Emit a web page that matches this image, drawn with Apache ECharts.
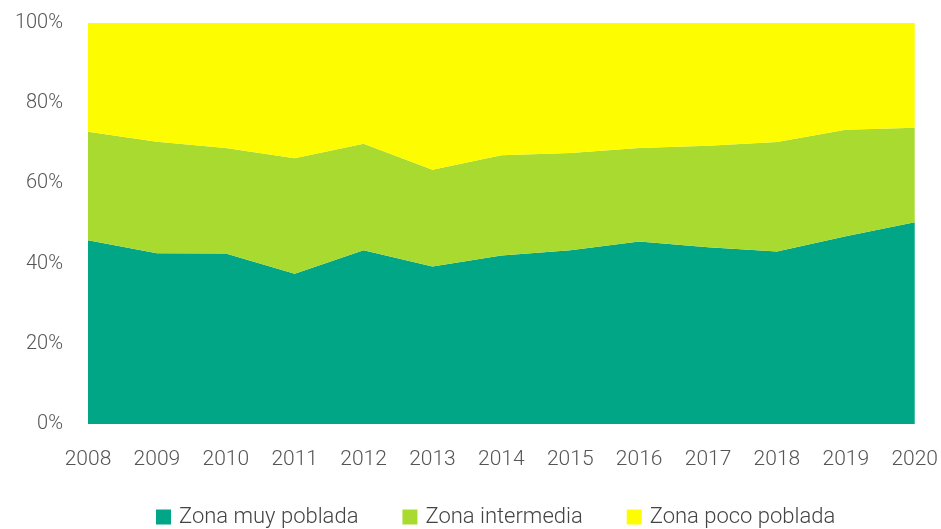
<!DOCTYPE html>
<html>
<head>
<meta charset="utf-8">
<script src="https://cdn.jsdelivr.net/npm/echarts@6/dist/echarts.min.js"></script>
<style>
  html, body { margin: 0; padding: 0; background: #fff; }
  #chart { width: 941px; height: 529px; }
</style>
</head>
<body>
<div id="chart"></div>
<script>
// años
const years = ['2008', '2009', '2010', '2011', '2012', '2013', '2014', '2015', '2016', '2017', '2018', '2019', '2020']

// porcentajes por zona (suman 100)
const muyPoblada = [45.8, 42.6, 42.5, 37.5, 43.3, 39.3, 42.0, 43.3, 45.5, 44.1, 43.0, 46.8, 50.3]
const intermedia = [27.1, 27.8, 26.3, 28.8, 26.6, 24.1, 25.0, 24.3, 23.3, 25.3, 27.3, 26.6, 23.6]
const pocoPoblada = [27.1, 29.6, 31.2, 33.7, 30.1, 36.6, 33.0, 32.4, 31.2, 30.6, 29.7, 26.6, 26.1]

const names = ['Zona muy poblada', 'Zona intermedia', 'Zona poco poblada']
const colors = ['#00a685', '#a8da2f', '#fdfc00']

const fontFamily = 'Roboto, sans-serif'

const chart = echarts.init(document.getElementById('chart'))

const makeSeries = (name, data, color) => ({
  name,
  type: 'line',
  stack: 'total',
  data,
  symbol: 'none',
  lineStyle: { width: 0 },
  areaStyle: { color, opacity: 1 },
  itemStyle: { color },
  emphasis: { disabled: true }
})

chart.setOption({
  animation: false,
  color: colors,
  grid: { left: 88, right: 24, top: 23, bottom: 105 },
  legend: {
    top: 501,
    left: 151,
    itemWidth: 15,
    itemHeight: 15,
    itemGap: 44,
    icon: 'rect',
    textStyle: { fontFamily, fontSize: 22, fontWeight: 300, color: '#444', padding: [0, 0, 0, 3] },
    data: names
  },
  xAxis: {
    type: 'category',
    data: years,
    boundaryGap: false,
    axisLine: { show: false },
    axisTick: { show: false },
    axisLabel: { fontFamily, fontSize: 21, fontWeight: 300, color: '#555', margin: 25 }
  },
  yAxis: {
    type: 'value',
    min: 0,
    max: 100,
    interval: 20,
    axisLine: { show: false },
    axisTick: { show: false },
    splitLine: { show: false },
    axisLabel: { fontFamily, fontSize: 20, fontWeight: 300, color: '#555', margin: 25, formatter: '{value}%' }
  },
  series: [
    makeSeries(names[0], muyPoblada, colors[0]),
    makeSeries(names[1], intermedia, colors[1]),
    makeSeries(names[2], pocoPoblada, colors[2])
  ]
})
</script>
</body>
</html>
